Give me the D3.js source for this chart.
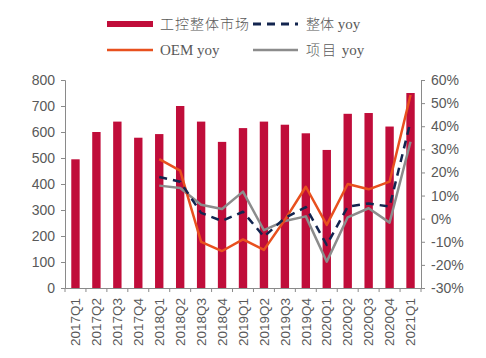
<!DOCTYPE html>
<html><head><meta charset="utf-8">
<script src="https://cdn.jsdelivr.net/npm/d3@7"></script>
<style>body{margin:0;background:#fff}</style>
</head><body><svg id="c" width="486" height="358"></svg>
<script>
const categories = ["2017Q1","2017Q2","2017Q3","2017Q4","2018Q1","2018Q2","2018Q3","2018Q4","2019Q1","2019Q2","2019Q3","2019Q4","2020Q1","2020Q2","2020Q3","2020Q4","2021Q1"];
const market = [495,600,640,578,592,700,640,562,615,640,628,595,531,670,673,621,750];
const lineCats = categories.slice(4);
const totalYoy = [18,16,2.5,-1,3,-7.8,0.3,5,-11.4,5.2,6.6,5.2,42];
const oemYoy = [25.8,20.8,-10,-14,-9,-13.5,-0.5,13.8,-2.7,15,12.7,16,53.5];
const projYoy = [14.3,13.3,6,4.2,11.7,-5,-1,1,-18.6,0.6,4.5,-1.7,33.3];
const leftTicks = [0,100,200,300,400,500,600,700,800];
const rightTicks = [-30,-20,-10,0,10,20,30,40,50,60];

const svg = d3.select("#c");
const L = 65, R = 421, T = 80, B = 288;
const x = d3.scaleBand().domain(categories).range([L, R]).paddingInner(0.6).paddingOuter(0.3);
const yL = d3.scaleLinear().domain([0,800]).range([B,T]);
const yR = d3.scaleLinear().domain([-30,60]).range([B,T]);
const axisColor = "#8a8a8a", textColor = "#595959";
const barColor = "#C00D3A", oemColor = "#E8501E", totColor = "#13254F", projColor = "#8C8C8C";

// bars
svg.append("g").selectAll("rect").data(categories).join("rect")
  .attr("x", d => x(d)).attr("width", x.bandwidth())
  .attr("y", (d,i) => yL(market[i])).attr("height", (d,i) => B - yL(market[i]))
  .attr("fill", barColor);

const cx = d => x(d) + x.bandwidth()/2;
function drawLine(vals, color, dash){
  const line = d3.line().x((d,i) => cx(lineCats[i])).y(d => yR(d));
  svg.append("path").datum(vals).attr("d", line).attr("fill","none")
    .attr("stroke", color).attr("stroke-width", 2.5)
    .attr("stroke-dasharray", dash || null).attr("stroke-linejoin","round");
}
drawLine(projYoy, projColor);
drawLine(oemYoy, oemColor);
drawLine(totalYoy, totColor, "8,6");

// left axis
const ga = svg.append("g").attr("transform", `translate(${L},0)`)
  .call(d3.axisLeft(yL).tickValues(leftTicks).tickSize(4).tickPadding(6));
// right axis
const gr = svg.append("g").attr("transform", `translate(${R},0)`)
  .call(d3.axisRight(yR).tickValues(rightTicks).tickSize(4).tickPadding(6).tickFormat(d => d + "%"));
// bottom axis
const gb = svg.append("g").attr("transform", `translate(0,${B})`)
  .call(d3.axisBottom(x).tickSize(0).tickPadding(10));
gb.selectAll(".tick text").attr("transform","rotate(-90)").attr("text-anchor","end")
  .attr("x", -10).attr("y", 0).attr("dy","0.35em");
// boundary ticks
const step = x.step();
const bounds = d3.range(categories.length + 1).map(i => L + (R - L) * i / categories.length);
svg.append("g").selectAll("line").data(bounds).join("line")
  .attr("x1", d => d).attr("x2", d => d).attr("y1", B).attr("y2", B + 4)
  .attr("stroke", axisColor);

[ga, gr, gb].forEach(g => {
  g.selectAll("path.domain, .tick line").attr("stroke", axisColor);
  g.selectAll("text").attr("fill", textColor).style("font-family","'Liberation Sans', Arial, sans-serif").style("font-size","14px");
});
gb.selectAll("text").style("font-size","13.5px");

// legend
const lg = svg.append("g").style("font-family","'Liberation Serif','Noto Sans CJK SC',serif").style("font-size","15px").attr("fill", textColor);
lg.append("rect").attr("x",107).attr("y",21).attr("width",46).attr("height",6).attr("fill",barColor);
lg.append("text").attr("x",160).attr("y",29).text("工控整体市场").style("font-family","'Noto Sans CJK SC',sans-serif").style("font-size","14px").style("font-weight","300").attr("letter-spacing","1");
lg.append("line").attr("x1",253).attr("x2",298).attr("y1",24).attr("y2",24).attr("stroke",totColor).attr("stroke-width",3).attr("stroke-dasharray","8,6");
const t2 = lg.append("text").attr("x",306).attr("y",29);
t2.append("tspan").text("整体").style("font-family","'Noto Sans CJK SC',sans-serif").style("font-size","14px").style("font-weight","300");
t2.append("tspan").text(" yoy");
lg.append("line").attr("x1",107).attr("x2",153).attr("y1",50).attr("y2",50).attr("stroke",oemColor).attr("stroke-width",2.5);
lg.append("text").attr("x",160).attr("y",55).text("OEM yoy");
lg.append("line").attr("x1",253).attr("x2",298).attr("y1",50).attr("y2",50).attr("stroke",projColor).attr("stroke-width",2.5);
const t4 = lg.append("text").attr("x",306).attr("y",55);
t4.append("tspan").text("项目").style("font-family","'Noto Sans CJK SC',sans-serif").style("font-size","14px").style("font-weight","300").attr("letter-spacing","2");
t4.append("tspan").text(" yoy");
</script></body></html>
